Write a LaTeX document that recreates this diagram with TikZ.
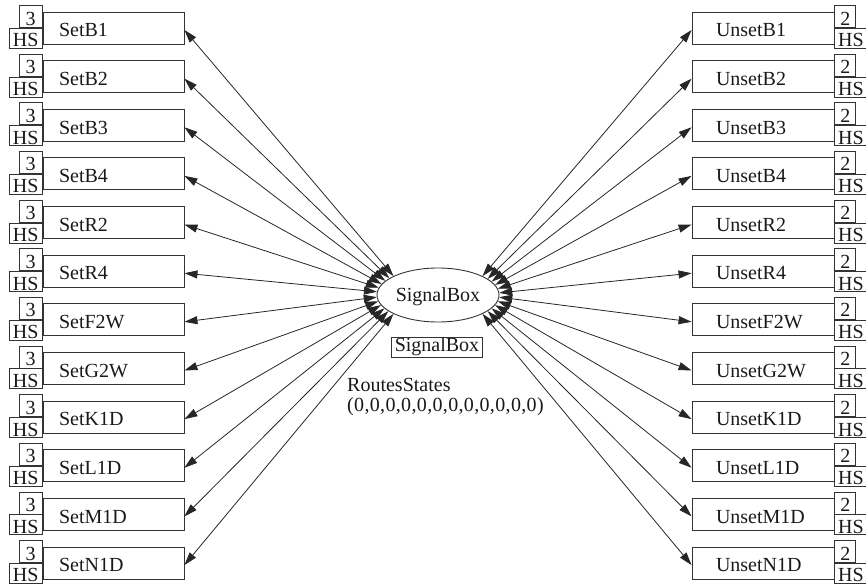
\documentclass[tikz,border=0pt]{standalone}
\usepackage{fontspec}
\setmainfont{Liberation Serif}
\usetikzlibrary{shapes.geometric,arrows.meta,calc}
\begin{document}
\begin{tikzpicture}[x=1pt,y=-1pt,
  every node/.style={font=\fontsize{20}{18}\selectfont, text=black!90},
  mainbox/.style={draw=black!80, line width=0.9pt, minimum height=32pt, inner ysep=0pt, text height=17.5pt, text depth=0pt, align=left},
  lbox/.style={mainbox, text width=109pt, inner xsep=16pt},
  rbox/.style={mainbox, text width=94pt, inner xsep=24pt},
  tagbox/.style={draw=black!80, line width=0.9pt, inner sep=0pt, text height=17pt, text depth=0pt},
  conn/.style={{Triangle[length=13pt,width=8pt]}-{Triangle[length=13pt,width=8pt]}, line width=0.8pt, draw=black!85}
]
\useasboundingbox (0,0) rectangle (866,585);
\node[ellipse, draw=black!80, line width=0.9pt, minimum width=122pt, minimum height=54pt, inner sep=0pt, text height=13.5pt, text depth=0pt] (ell) at (438,295) {\makebox[0pt]{SignalBox}};
\node[draw=black!80, line width=0.8pt, inner xsep=3.5pt, inner ysep=1pt, text height=13.5pt, text depth=4.5pt] (lab) at (437,347) {SignalBox};
\node[anchor=north west, inner sep=0pt, align=left, font=\fontsize{20}{20}\selectfont] (rs) at (347,378) {RoutesStates\\{\addfontfeature{LetterSpace=1.7}(0,0,0,0,0,0,0,0,0,0,0,0)}};
\foreach \n [count=\i from 0] in {SetB1,SetB2,SetB3,SetB4,SetR2,SetR4,SetF2W,SetG2W,SetK1D,SetL1D,SetM1D,SetN1D} {
  \pgfmathsetmacro\yc{28+\i*48.64}
  \pgfmathsetmacro\ang{157+\i*46/11}
  \node[lbox] (Lb\i) at (113.5,\yc) {\n};
  \node[tagbox, minimum width=23pt, minimum height=22pt, anchor=south east] (Lt\i) at (Lb\i.west) {3};
  \node[tagbox, minimum width=33pt, minimum height=20pt, anchor=north east] (Lh\i) at (Lb\i.west) {HS};
  \draw[conn] (ell.\ang) -- ([yshift=-2pt]Lb\i.east);
}
\foreach \n [count=\i from 0] in {UnsetB1,UnsetB2,UnsetB3,UnsetB4,UnsetR2,UnsetR4,UnsetF2W,UnsetG2W,UnsetK1D,UnsetL1D,UnsetM1D,UnsetN1D} {
  \pgfmathsetmacro\yc{28+\i*48.64}
  \pgfmathsetmacro\ang{23-\i*46/11}
  \node[rbox] (Rb\i) at (763,\yc) {\n};
  \node[tagbox, minimum width=21pt, minimum height=22pt, anchor=south west] (Rt\i) at (Rb\i.east) {2};
  \node[tagbox, minimum width=32pt, minimum height=20pt, anchor=north west] (Rh\i) at (Rb\i.east) {HS};
  \draw[conn] (ell.\ang) -- ([yshift=-2pt]Rb\i.west);
}
\end{tikzpicture}
\end{document}
